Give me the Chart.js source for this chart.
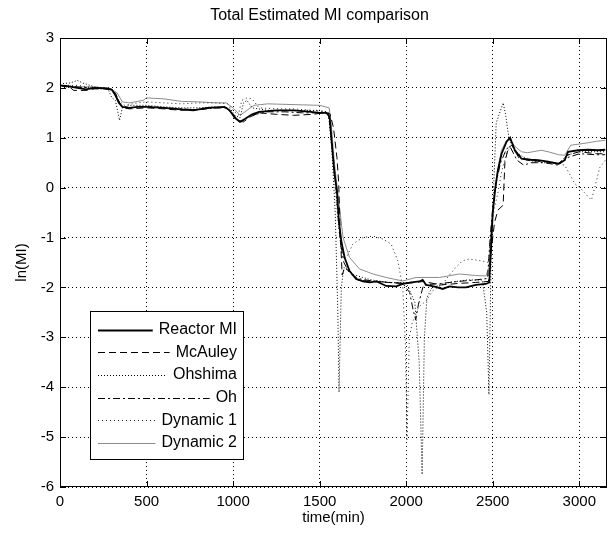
<!DOCTYPE html>
<html>
<head>
<meta charset="utf-8">
<script src="https://cdn.jsdelivr.net/npm/chart.js@4.4.0/dist/chart.umd.min.js"></script>
<style>
  html, body { margin: 0; padding: 0; background: #fff; }
  canvas { display: block; }
</style>
</head>
<body>
<canvas id="graficoMI" width="611" height="536"></canvas>
<script>
// [time (min), ln(MI)]
const reactorMI = [[0,2.05],[50,2.03],[100,2.0],[150,1.97],[200,2.0],[270,1.99],[300,1.96],[320,1.85],[340,1.7],[360,1.62],[400,1.6],[450,1.62],[500,1.62],[600,1.6],[700,1.57],[770,1.55],[850,1.6],[950,1.62],[980,1.55],[1010,1.4],[1040,1.32],[1070,1.38],[1110,1.47],[1150,1.52],[1250,1.55],[1350,1.55],[1450,1.52],[1500,1.5],[1540,1.5],[1558,1.42],[1567,1.0],[1586,0.27],[1600,-0.07],[1611,-0.67],[1625,-1.07],[1644,-1.4],[1673,-1.67],[1711,-1.83],[1750,-1.88],[1788,-1.9],[1830,-1.88],[1884,-1.97],[1942,-1.98],[1980,-1.93],[2030,-1.9],[2076,-1.88],[2095,-1.85],[2115,-1.95],[2160,-1.98],[2211,-2.03],[2249,-1.98],[2300,-2.0],[2345,-2.0],[2403,-1.95],[2460,-1.93],[2480,-1.9],[2490,-1.2],[2500,-0.5],[2515,0.0],[2530,0.35],[2551,0.68],[2580,0.92],[2600,1.0],[2628,0.75],[2666,0.58],[2720,0.56],[2762,0.55],[2820,0.52],[2878,0.48],[2916,0.55],[2935,0.72],[2993,0.75],[3051,0.76],[3108,0.75],[3150,0.76]];
const mcAuley = [[0,2.05],[60,2.0],[80,1.95],[150,1.95],[200,1.98],[280,1.98],[320,1.9],[345,1.7],[365,1.6],[400,1.58],[500,1.6],[600,1.58],[700,1.55],[800,1.57],[900,1.6],[960,1.6],[1000,1.48],[1030,1.33],[1060,1.32],[1100,1.42],[1150,1.5],[1250,1.47],[1350,1.45],[1460,1.47],[1520,1.5],[1560,1.48],[1580,1.2],[1600,0.6],[1610,0.1],[1620,-1.0],[1630,-1.75],[1645,-1.6],[1680,-1.7],[1720,-1.85],[1800,-1.88],[1900,-1.9],[2000,-1.92],[2100,-1.88],[2200,-1.95],[2300,-1.92],[2400,-1.9],[2475,-1.88],[2490,-1.3],[2510,-0.7],[2530,-0.45],[2560,-0.35],[2570,0.5],[2590,0.8],[2610,0.85],[2650,0.6],[2700,0.55],[2800,0.52],[2880,0.48],[2930,0.65],[3000,0.72],[3100,0.68],[3150,0.68]];
const ohshima = [[0,2.08],[60,2.1],[100,2.15],[130,2.1],[200,2.02],[250,2.0],[280,1.95],[300,1.8],[320,1.75],[344,1.35],[360,1.6],[400,1.65],[500,1.65],[600,1.62],[700,1.6],[800,1.6],[900,1.62],[980,1.6],[1010,1.45],[1040,1.4],[1060,1.7],[1080,1.75],[1110,1.6],[1200,1.55],[1300,1.55],[1400,1.55],[1500,1.55],[1550,1.5],[1570,0.8],[1590,-0.5],[1605,-2.5],[1612,-4.1],[1625,-2.0],[1640,-1.6],[1700,-1.75],[1800,-1.85],[1900,-1.9],[2000,-1.9],[2050,-2.3],[2075,-3.5],[2092,-5.75],[2105,-3.0],[2120,-2.2],[2150,-2.0],[2250,-1.9],[2350,-1.85],[2440,-1.85],[2465,-2.5],[2478,-4.15],[2490,-1.5],[2505,0.0],[2520,1.3],[2545,1.55],[2560,1.7],[2575,1.45],[2595,0.95],[2640,0.7],[2700,0.55],[2800,0.5],[2880,0.48],[2930,0.65],[3000,0.72],[3100,0.72],[3150,0.72]];
const oh = [[0,2.05],[100,2.02],[200,1.99],[300,1.97],[330,1.8],[350,1.65],[400,1.6],[500,1.63],[600,1.6],[700,1.58],[800,1.56],[900,1.6],[960,1.6],[990,1.5],[1030,1.33],[1060,1.35],[1100,1.45],[1200,1.52],[1300,1.52],[1400,1.5],[1500,1.5],[1550,1.48],[1565,1.1],[1590,0.2],[1605,-0.5],[1620,-1.1],[1640,-1.5],[1670,-1.7],[1720,-1.82],[1800,-1.87],[1900,-1.9],[1980,-1.92],[2020,-2.1],[2040,-2.45],[2055,-2.65],[2070,-2.35],[2100,-1.95],[2200,-1.92],[2300,-1.88],[2400,-1.85],[2470,-1.82],[2485,-1.0],[2500,-0.4],[2520,0.1],[2545,0.5],[2580,0.78],[2600,0.82],[2640,0.55],[2680,0.45],[2720,0.5],[2800,0.5],[2880,0.45],[2930,0.6],[3000,0.68],[3100,0.66],[3150,0.66]];
const dynamic1 = [[0,2.05],[100,2.05],[200,2.0],[300,1.97],[340,1.75],[370,1.65],[450,1.7],[500,1.72],[600,1.7],[700,1.68],[800,1.7],[900,1.7],[970,1.68],[1000,1.55],[1030,1.45],[1050,1.75],[1080,1.8],[1110,1.78],[1150,1.6],[1250,1.58],[1350,1.58],[1450,1.55],[1550,1.52],[1570,1.0],[1590,0.0],[1610,-0.8],[1630,-1.4],[1654,-1.4],[1692,-1.13],[1750,-1.0],[1808,-0.97],[1865,-1.03],[1913,-1.13],[1952,-1.47],[1980,-2.0],[1995,-3.1],[2005,-5.05],[2018,-3.0],[2035,-2.7],[2050,-2.6],[2070,-2.4],[2115,-2.27],[2153,-2.07],[2210,-1.93],[2250,-1.75],[2286,-1.6],[2324,-1.47],[2362,-1.43],[2439,-1.47],[2477,-1.5],[2490,-0.8],[2510,-0.4],[2530,-0.1],[2550,0.3],[2580,0.7],[2600,0.8],[2650,0.65],[2720,0.55],[2800,0.53],[2880,0.48],[2916,0.45],[2974,0.08],[3003,0.0],[3051,-0.18],[3070,-0.25],[3089,0.0],[3118,0.4],[3150,0.55]];
const dynamic2 = [[0,2.05],[100,2.02],[200,2.02],[290,1.99],[330,1.9],[360,1.72],[400,1.7],[480,1.75],[500,1.8],[600,1.78],[700,1.73],[800,1.72],[900,1.7],[960,1.7],[1000,1.6],[1040,1.45],[1080,1.55],[1120,1.65],[1200,1.68],[1300,1.67],[1400,1.66],[1500,1.65],[1555,1.6],[1567,1.27],[1586,0.47],[1615,-0.4],[1635,-1.0],[1673,-1.4],[1730,-1.63],[1808,-1.73],[1884,-1.8],[1980,-1.87],[2057,-1.8],[2192,-1.8],[2307,-1.73],[2400,-1.76],[2460,-1.77],[2478,-1.6],[2490,-0.9],[2505,-0.3],[2525,0.3],[2550,0.75],[2580,0.95],[2595,0.98],[2630,0.82],[2666,0.72],[2700,0.7],[2780,0.75],[2820,0.72],[2880,0.66],[2916,0.65],[2950,0.85],[3051,0.9],[3100,0.93],[3150,0.95]];

const legendas = ['Reactor MI', 'McAuley', 'Ohshima', 'Oh', 'Dynamic 1', 'Dynamic 2'];
const titulo = 'Total Estimated MI comparison';
const xTicks = [0, 500, 1000, 1500, 2000, 2500, 3000];
const yTicks = [-6, -5, -4, -3, -2, -1, 0, 1, 2, 3];
const xMin = 0, xMax = 3160;
const yMin = -6, yMax = 3;

const fonte = 'Liberation Sans, Arial, Helvetica, sans-serif';
const pts = arr => arr.map(p => ({x: p[0], y: p[1]}));

// caixa do gráfico com marcas de escala para dentro (estilo MATLAB) + título
const moldura = {
    id: 'moldura',
    afterDatasetsDraw(chart) {
        const {ctx, chartArea: a, scales: {x, y}} = chart;
        ctx.save();
        ctx.strokeStyle = '#000';
        ctx.lineWidth = 1;
        ctx.setLineDash([]);
        ctx.strokeRect(a.left + 0.5, a.top + 0.5, a.right - a.left - 1, a.bottom - a.top - 1);
        ctx.beginPath();
        x.ticks.forEach(t => {
            const px = Math.round(x.getPixelForValue(t.value)) + 0.5;
            ctx.moveTo(px, a.bottom); ctx.lineTo(px, a.bottom - 6);
            ctx.moveTo(px, a.top); ctx.lineTo(px, a.top + 6);
        });
        y.ticks.forEach(t => {
            const py = Math.round(y.getPixelForValue(t.value)) + 0.5;
            ctx.moveTo(a.left, py); ctx.lineTo(a.left + 6, py);
            ctx.moveTo(a.right, py); ctx.lineTo(a.right - 6, py);
        });
        ctx.stroke();
        ctx.fillStyle = '#000';
        ctx.font = '16px ' + fonte;
        ctx.textAlign = 'center';
        ctx.textBaseline = 'middle';
        ctx.fillText(titulo, (a.left + a.right) / 2 - 14, 16);
        ctx.restore();
    }
};

// legenda dentro da área, canto inferior esquerdo
const legendaCaixa = {
    id: 'legendaCaixa',
    afterDraw(chart) {
        const {ctx, chartArea: a} = chart;
        const left = a.left + 30, right = a.left + 183;
        const top = a.top + 273, bottom = a.bottom - 28;
        ctx.save();
        ctx.fillStyle = '#fff';
        ctx.fillRect(left, top, right - left, bottom - top);
        ctx.strokeStyle = '#000';
        ctx.lineWidth = 1;
        ctx.setLineDash([]);
        ctx.strokeRect(left + 0.5, top + 0.5, right - left, bottom - top);
        ctx.font = '16px ' + fonte;
        ctx.textAlign = 'right';
        ctx.textBaseline = 'middle';
        chart.data.datasets.forEach((ds, i) => {
            const yy = top + 18.5 + i * 22.7;
            const w = ctx.measureText(ds.label).width;
            const xEnd = right - 6;
            ctx.beginPath();
            ctx.strokeStyle = ds.borderColor;
            ctx.lineWidth = ds.borderWidth;
            ctx.setLineDash(ds.borderDash || []);
            ctx.moveTo(left + 8, Math.round(yy) + 0.5);
            ctx.lineTo(xEnd - w - 6, Math.round(yy) + 0.5);
            ctx.stroke();
            ctx.fillStyle = '#000';
            ctx.fillText(ds.label, xEnd, yy);
        });
        ctx.restore();
    }
};

const estilo = (label, data, cor, largura, traco) => ({
    label: label,
    data: pts(data),
    borderColor: cor,
    borderWidth: largura,
    borderDash: traco,
    pointRadius: 0,
    fill: false,
    tension: 0
});

const ctxMI = document.getElementById('graficoMI').getContext('2d');
const graficoMI = new Chart(ctxMI, {
    type: 'line',
    data: {
        datasets: [
            estilo(legendas[0], reactorMI, '#000', 1.8, []),
            estilo(legendas[1], mcAuley, '#000', 1, [7, 4]),
            estilo(legendas[2], ohshima, '#000', 1, [1, 2]),
            estilo(legendas[3], oh, '#000', 1, [7, 3, 2, 3]),
            estilo(legendas[4], dynamic1, '#222', 1, [1, 3]),
            estilo(legendas[5], dynamic2, '#8c8c8c', 1, [])
        ]
    },
    options: {
        responsive: false,
        animation: false,
        devicePixelRatio: 1,
        layout: { padding: { top: 38, right: 4, bottom: 0, left: 0 } },
        plugins: {
            legend: { display: false },
            tooltip: { enabled: false },
            title: { display: false }
        },
        scales: {
            x: {
                type: 'linear',
                min: xMin,
                max: xMax,
                afterFit(scale) { scale.height = 49; },
                afterBuildTicks(scale) { scale.ticks = xTicks.map(v => ({value: v})); },
                ticks: {
                    color: '#000',
                    padding: 6,
                    maxRotation: 0,
                    autoSkip: false,
                    font: { family: fonte, size: 15 },
                    callback: v => String(v)
                },
                grid: { color: '#000', lineWidth: 1, drawTicks: false },
                border: { display: false, dash: [1, 3] },
                title: {
                    display: true,
                    text: 'time(min)',
                    color: '#000',
                    font: { family: fonte, size: 15 },
                    padding: { top: 0, bottom: 9 }
                }
            },
            y: {
                type: 'linear',
                min: yMin,
                max: yMax,
                afterFit(scale) { scale.width = 60; },
                afterBuildTicks(scale) { scale.ticks = yTicks.map(v => ({value: v})); },
                ticks: {
                    color: '#000',
                    padding: 6,
                    autoSkip: false,
                    font: { family: fonte, size: 15 },
                    callback: v => String(v)
                },
                grid: { color: '#000', lineWidth: 1, drawTicks: false },
                border: { display: false, dash: [1, 3] },
                title: {
                    display: true,
                    text: 'ln(MI)',
                    color: '#000',
                    font: { family: fonte, size: 15 },
                    padding: { top: 13, bottom: 0 }
                }
            }
        }
    },
    plugins: [moldura, legendaCaixa]
});
</script>
</body>
</html>
